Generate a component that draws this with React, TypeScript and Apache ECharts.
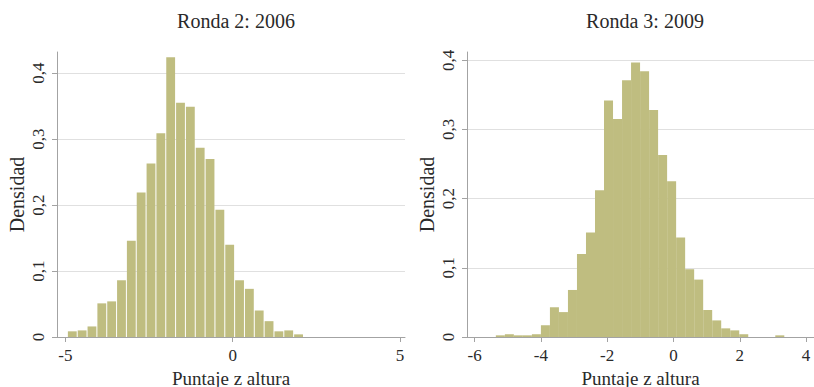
import React, { useEffect, useRef } from "react";
import * as echarts from "echarts";

// Histogram of height-for-age z-scores, two survey rounds
const titles = ["Ronda 2: 2006", "Ronda 3: 2009"];
const xAxisName = "Puntaje z altura";
const yAxisName = "Densidad";

// Round 2 (2006): bins start at -4.94, width 0.294
const round2BinStart = -4.94;
const round2BinWidth = 0.294;
const round2Density = [
  0.0086, 0.01, 0.016, 0.051, 0.054, 0.086, 0.146, 0.219, 0.263, 0.309, 0.424, 0.355,
  0.349, 0.287, 0.27, 0.193, 0.14, 0.086, 0.073, 0.04, 0.024, 0.0086, 0.01, 0.004,
];

// Round 3 (2009): bins start at -5.36, width 0.272
const round3BinStart = -5.36;
const round3BinWidth = 0.272;
const round3Density = [
  0.0024, 0.004, 0.0024, 0.0024, 0.004, 0.017, 0.043, 0.036, 0.068, 0.12, 0.151, 0.212,
  0.342, 0.315, 0.371, 0.397, 0.384, 0.328, 0.263, 0.225, 0.144, 0.098, 0.083, 0.039,
  0.024, 0.0125, 0.0096, 0.004, 0, 0, 0, 0.0024,
];

const round2XTicks = [-5, 0, 5];
const round3XTicks = [-6, -4, -2, 0, 2, 4];
const yTicks = [0, 0.1, 0.2, 0.3, 0.4];

const FONT = "Liberation Serif";
const TEXT = "#2a2a2a";
const BAR = "#bfbd80";
const AXIS = "#a3a3a3";
const GRID = "#e0e0e0";

function toBins(start: number, width: number, dens: number[]) {
  return dens.map((d, i) => [start + i * width, start + (i + 1) * width, d]);
}

function fmtY(v: number) {
  return v === 0 ? "0" : v.toFixed(1).replace(".", ",");
}

function histSeries(idx: number, data: number[][], gap: number) {
  return {
    type: "custom",
    xAxisIndex: idx,
    yAxisIndex: idx,
    encode: { x: [0, 1], y: 2 },
    data,
    renderItem: (params: any, api: any) => {
      const p0 = api.coord([api.value(0), api.value(2)]);
      const p1 = api.coord([api.value(1), 0]);
      return {
        type: "rect",
        shape: {
          x: p0[0] + gap / 2,
          y: p0[1],
          width: p1[0] - p0[0] - gap,
          height: p1[1] - p0[1],
        },
        style: { fill: BAR },
      };
    },
  };
}

function xAxis(idx: number, min: number, max: number, ticks: number[]) {
  return {
    type: "value",
    gridIndex: idx,
    min,
    max,
    name: xAxisName,
    nameLocation: "middle",
    nameGap: 25,
    nameTextStyle: { fontFamily: FONT, fontSize: 19, color: TEXT },
    axisLine: { show: true, onZero: false, lineStyle: { color: AXIS, width: 1 } },
    axisTick: { show: true, length: 5, customValues: ticks, lineStyle: { color: AXIS } },
    axisLabel: {
      customValues: ticks,
      fontFamily: FONT,
      fontSize: 17,
      color: TEXT,
      margin: 10,
      formatter: (v: number) => String(v),
    },
    splitLine: { show: false },
  };
}

function yAxis(idx: number, max: number) {
  return {
    type: "value",
    gridIndex: idx,
    min: 0,
    max,
    name: yAxisName,
    nameLocation: "middle",
    nameGap: 30,
    nameTextStyle: { fontFamily: FONT, fontSize: 20, color: TEXT },
    axisLine: { show: true, onZero: false, lineStyle: { color: AXIS, width: 1 } },
    axisTick: { show: true, length: 5, customValues: yTicks, lineStyle: { color: AXIS } },
    axisLabel: {
      customValues: yTicks,
      rotate: 90,
      fontFamily: FONT,
      fontSize: 17,
      color: TEXT,
      margin: 10,
      formatter: fmtY,
    },
    splitLine: { show: true, lineStyle: { color: GRID, width: 1 } },
  };
}

export default function App() {
  const ref = useRef<HTMLDivElement>(null);

  useEffect(() => {
    if (!ref.current) return;
    const chart = echarts.init(ref.current, null, { renderer: "svg" });
    chart.setOption({
      animation: false,
      backgroundColor: "#ffffff",
      textStyle: { fontFamily: FONT, color: TEXT },
      title: [
        {
          text: titles[0],
          left: 231,
          top: 6,
          textAlign: "center",
          textStyle: { fontFamily: FONT, fontSize: 20, fontWeight: "normal", color: TEXT },
        },
        {
          text: titles[1],
          left: 640,
          top: 6,
          textAlign: "center",
          textStyle: { fontFamily: FONT, fontSize: 20, fontWeight: "normal", color: TEXT },
        },
      ],
      grid: [
        { left: 57, right: 409, top: 52, bottom: 50, outerBoundsMode: "none", containLabel: false },
        { left: 467, right: 0, top: 52, bottom: 50, outerBoundsMode: "none", containLabel: false },
      ],
      xAxis: [
        xAxis(0, -5.25, 5.15, round2XTicks),
        xAxis(1, -6.23, 4.24, round3XTicks),
      ],
      yAxis: [yAxis(0, 0.432), yAxis(1, 0.412)],
      series: [
        histSeries(0, toBins(round2BinStart, round2BinWidth, round2Density), 1),
        histSeries(1, toBins(round3BinStart, round3BinWidth, round3Density), 0),
      ],
    });
    return () => chart.dispose();
  }, []);

  return (
    <div
      ref={ref}
      style={{ position: "fixed", left: 0, top: 0, width: 814, height: 387, background: "#fff" }}
    />
  );
}
